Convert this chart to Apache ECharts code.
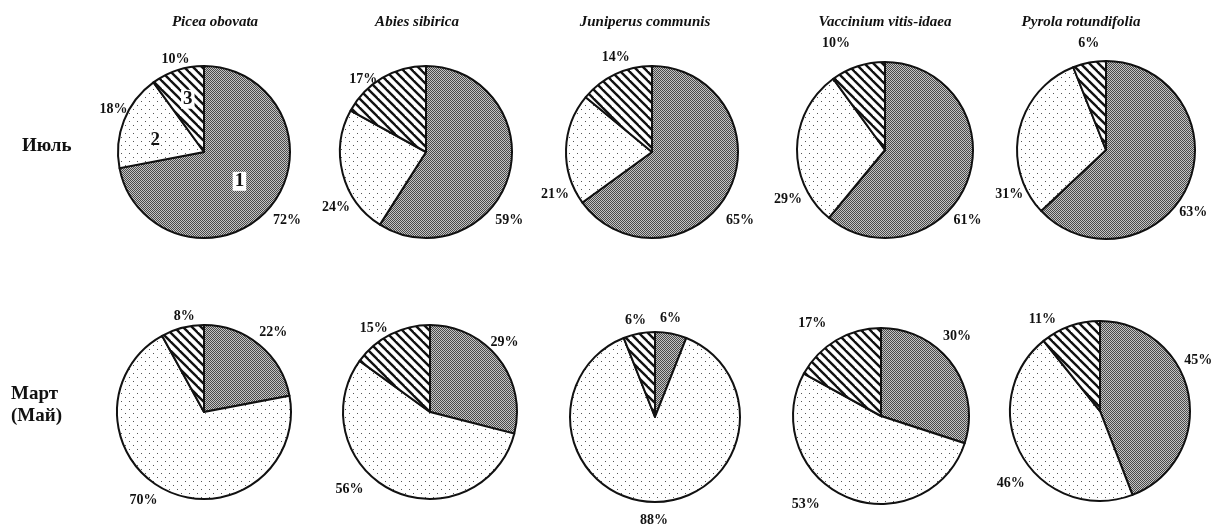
<!DOCTYPE html>
<html><head><meta charset="utf-8">
<script src="https://cdn.jsdelivr.net/npm/echarts@6/dist/echarts.min.js"></script>
<style>html,body{margin:0;padding:0;background:#fff}#c{width:1212px;height:524px}</style>
</head><body><div id="c"></div><script>
// ---- data ----
const species = ['Picea obovata', 'Abies sibirica', 'Juniperus communis', 'Vaccinium vitis-idaea', 'Pyrola rotundifolia'];
const rowLabels = ['Июль', 'Март\n(Май)'];
const sliceNames = ['1', '2', '3'];
const julyPart1 = [72, 59, 65, 61, 63];
const julyPart2 = [18, 24, 21, 29, 31];
const julyPart3 = [10, 17, 14, 10, 6];
const mayPart1 = [22, 29, 6, 30, 45];
const mayPart2 = [70, 56, 88, 53, 46];
const mayPart3 = [8, 15, 6, 17, 11];

// ---- layout ----
const colX = [[204, 426, 652, 885, 1106], [204, 430, 655, 881, 1100]];
const rowY = [[152, 152, 152, 150, 150], [412, 412, 417, 416, 411]];
const radii = [[86, 86, 86, 88, 89], [87, 87, 85, 88, 90]];
const titleX = [215, 417, 645, 885, 1081];
// manual nudges of the percentage labels (as placed in the original figure)
const labelShift = [
  [[[-7, 10], [14, -9], [19, -5]], [[-24, 43], [18, 33], [3, 7]], [[-13, 27], [14, 45], [22, -11]], [[-25, 39], [16, 52], [-1, -17]], [[-19, 25], [15, 65], [16, -13]]],
  [[[-9, -8], [-2, 4], [19, -6]], [[-18, -13], [-22, -7], [5, -1]], [[-17, -9], [-20, 12], [13, -7]], [[-19, -24], [-19, 2], [-2, -12]], [[-15, -33], [13, 24], [-7, -1]]]
];
const markerShift = [[0, 0], [-6, 5], [-2, -9]];

function makeCanvas(w, h, draw) {
  const c = document.createElement('canvas'); c.width = w; c.height = h;
  draw(c.getContext('2d')); return c;
}
const darkPat = makeCanvas(2, 2, ctx => {
  ctx.fillStyle = '#c4c4c4'; ctx.fillRect(0, 0, 2, 2);
  ctx.fillStyle = '#4a4a4a'; ctx.fillRect(0, 0, 1, 1); ctx.fillRect(1, 1, 1, 1);
});
const dotPat = makeCanvas(8, 8, ctx => {
  ctx.fillStyle = '#fff'; ctx.fillRect(0, 0, 8, 8);
  ctx.fillStyle = '#555'; ctx.fillRect(1, 1, 1, 1); ctx.fillRect(5, 5, 1, 1);
});
const hatchPat = makeCanvas(9, 9, ctx => {
  ctx.fillStyle = '#fff'; ctx.fillRect(0, 0, 9, 9);
  ctx.strokeStyle = '#111'; ctx.lineWidth = 2.4;
  for (const k of [-9, 0, 9]) { ctx.beginPath(); ctx.moveTo(k - 1, -1); ctx.lineTo(k + 10, 10); ctx.stroke(); }
});
const fills = [
  { image: darkPat, repeat: 'repeat' },
  { image: dotPat, repeat: 'repeat' },
  { image: hatchPat, repeat: 'repeat' }
];

const rows = [[julyPart1, julyPart2, julyPart3], [mayPart1, mayPart2, mayPart3]];
const series = [];
rows.forEach((parts, r) => {
  species.forEach((sp, i) => {
    series.push({
      type: 'pie',
      name: sp + ' ' + r,
      center: [colX[r][i], rowY[r][i]],
      radius: [0, radii[r][i]],
      startAngle: 90,
      clockwise: true,
      avoidLabelOverlap: false,
      silent: true,
      animation: false,
      itemStyle: { borderColor: '#111', borderWidth: 2 },
      label: {
        show: true, position: 'outside', formatter: '{c}%',
        fontFamily: 'Liberation Serif', fontWeight: 'bold', fontSize: 14, color: '#111'
      },
      labelLine: { show: false, length: 6, length2: 0 },
      labelLayout: p => ({ dx: labelShift[r][i][p.dataIndex][0], dy: labelShift[r][i][p.dataIndex][1] }),
      data: parts.map((arr, k) => ({ name: sliceNames[k], value: arr[i], itemStyle: { color: fills[k] } }))
    });
  });
});
// numbered slice markers on the first pie
series.push({
  type: 'pie',
  center: [colX[0][0], rowY[0][0]],
  radius: [0, radii[0][0]],
  startAngle: 90, clockwise: true, silent: true, animation: false,
  itemStyle: { color: 'transparent', borderWidth: 0 },
  label: {
    show: true, position: 'inside', formatter: '{b}',
    fontFamily: 'Liberation Serif', fontWeight: 'bold', fontSize: 19, color: '#111'
  },
  labelLine: { show: false },
  labelLayout: p => ({ dx: markerShift[p.dataIndex][0], dy: markerShift[p.dataIndex][1] }),
  data: rows[0].map((arr, k) => ({
    name: sliceNames[k], value: arr[0],
    label: k !== 1 ? { backgroundColor: '#fff', padding: [0, 2] } : {}
  }))
});

const graphics = [];
species.forEach((sp, i) => {
  graphics.push({
    type: 'text', x: titleX[i], y: 22, silent: true,
    style: { text: sp, fill: '#111', font: 'italic bold 15px "Liberation Serif"', align: 'center', verticalAlign: 'middle' }
  });
});
graphics.push({ type: 'text', x: 22, y: 146, silent: true,
  style: { text: rowLabels[0], fill: '#111', font: 'bold 19px "Liberation Serif"', align: 'left', verticalAlign: 'middle' } });
graphics.push({ type: 'text', x: 11, y: 405, silent: true,
  style: { text: rowLabels[1], fill: '#111', font: 'bold 19px "Liberation Serif"', align: 'left', verticalAlign: 'middle', lineHeight: 22 } });

const chart = echarts.init(document.getElementById('c'), null, { renderer: 'canvas' });
chart.setOption({ backgroundColor: '#fff', animation: false, series, graphic: graphics });
</script></body></html>
